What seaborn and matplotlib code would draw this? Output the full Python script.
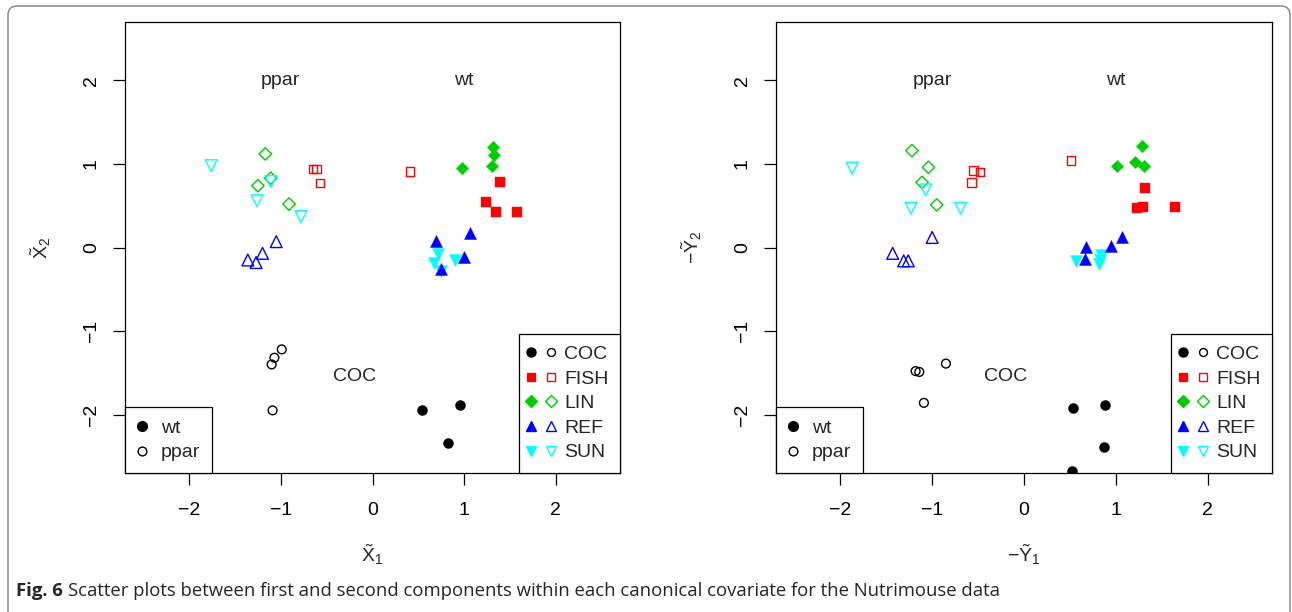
import numpy as np
import pandas as pd
import matplotlib
matplotlib.use("Agg")
import matplotlib.pyplot as plt
import seaborn as sns
from matplotlib.lines import Line2D
from matplotlib.legend_handler import HandlerTuple
from matplotlib.patches import FancyBboxPatch
from matplotlib.transforms import IdentityTransform

# Nutrimouse: 2 genotypes x 5 diets
diets = ["COC", "FISH", "LIN", "REF", "SUN"]
diet_colors = ["#000000", "#FF0000", "#00CD00", "#0000FF", "#00FFFF"]
genotypes = ["wt", "ppar"]
tick_vals = [-2, -1, 0, 1, 2]

# left panel: X~1 vs X~2
wt_diet_L = ["COC"] * 3 + ["FISH"] * 4 + ["LIN"] * 4 + ["REF"] * 4 + ["SUN"] * 4
wt_x_L = [0.54, 0.95, 0.82, 1.39, 1.24, 1.35, 1.58, 0.98, 1.31, 1.33, 1.30,
          0.69, 1.06, 1.00, 0.75, 0.71, 0.67, 0.90, 0.75]
wt_y_L = [-1.95, -1.89, -2.34, 0.79, 0.54, 0.42, 0.43, 0.95, 1.20, 1.11, 0.98,
          0.08, 0.17, -0.11, -0.26, -0.08, -0.19, -0.15, -0.28]
pp_diet_L = ["COC"] * 4 + ["FISH"] * 4 + ["LIN"] * 4 + ["REF"] * 4 + ["SUN"] * 4
pp_x_L = [-0.99, -1.07, -1.10, -1.09, -0.65, -0.61, -0.57, 0.41, -1.17, -1.11, -1.25, -0.91,
          -1.05, -1.20, -1.36, -1.27, -1.76, -1.11, -1.26, -0.78]
pp_y_L = [-1.22, -1.32, -1.40, -1.95, 0.94, 0.94, 0.77, 0.91, 1.12, 0.83, 0.74, 0.52,
          0.07, -0.07, -0.15, -0.18, 0.98, 0.79, 0.56, 0.37]

# right panel: -Y~1 vs -Y~2
wt_diet_R = ["COC"] * 4 + ["FISH"] * 4 + ["LIN"] * 4 + ["REF"] * 4 + ["SUN"] * 4
wt_x_R = [0.53, 0.88, 0.87, 0.52, 1.32, 1.23, 1.30, 1.64, 1.29, 1.01, 1.21, 1.31,
          1.07, 0.95, 0.67, 0.66, 0.57, 0.84, 0.82, 0.83]
wt_y_R = [-1.92, -1.89, -2.39, -2.68, 0.71, 0.47, 0.48, 0.49, 1.21, 0.98, 1.02, 0.98,
          0.13, 0.02, 0.01, -0.14, -0.16, -0.09, -0.20, -0.15]
pp_diet_R = ["COC"] * 4 + ["FISH"] * 4 + ["LIN"] * 4 + ["REF"] * 4 + ["SUN"] * 4
pp_x_R = [-0.85, -1.18, -1.14, -1.09, -0.55, -0.48, -0.57, 0.51, -1.22, -1.04, -1.11, -0.95,
          -1.00, -1.43, -1.31, -1.26, -1.87, -1.07, -1.23, -0.69]
pp_y_R = [-1.39, -1.48, -1.49, -1.86, 0.92, 0.90, 0.78, 1.04, 1.16, 0.96, 0.78, 0.51,
          0.12, -0.07, -0.16, -0.16, 0.95, 0.69, 0.47, 0.47]


def make_frame(wt_d, wt_x, wt_y, pp_d, pp_x, pp_y):
    a = pd.DataFrame({"diet": wt_d, "x": wt_x, "y": wt_y, "genotype": "wt"})
    b = pd.DataFrame({"diet": pp_d, "x": pp_x, "y": pp_y, "genotype": "ppar"})
    return pd.concat([a, b], ignore_index=True)


df_left = make_frame(wt_diet_L, wt_x_L, wt_y_L, pp_diet_L, pp_x_L, pp_y_L)
df_right = make_frame(wt_diet_R, wt_x_R, wt_y_R, pp_diet_R, pp_x_R, pp_y_R)

markers = {"COC": "o", "FISH": "s", "LIN": "D", "REF": "^", "SUN": "v"}
s_fill = {"COC": 52, "FISH": 46, "LIN": 40, "REF": 75, "SUN": 75}
s_open = {"COC": 40, "FISH": 36, "LIN": 40, "REF": 72, "SUN": 72}
col_of = dict(zip(diets, diet_colors))
draw_order = ["COC", "FISH", "LIN", "SUN", "REF"]

sns.set_style("ticks")
plt.rcParams["font.family"] = ["Liberation Sans", "DejaVu Sans"]
plt.rcParams["mathtext.fontset"] = "custom"
plt.rcParams["mathtext.rm"] = "Liberation Sans"
plt.rcParams["mathtext.it"] = "Liberation Sans:italic"
plt.rcParams["mathtext.bf"] = "Liberation Sans:bold"

W, H = 1292, 612
fig = plt.figure(figsize=(W / 100, H / 100), dpi=100)
fig.patch.set_facecolor("white")
ax1 = fig.add_axes([125 / W, 1 - 473 / H, 495 / W, 451 / H])
ax2 = fig.add_axes([776 / W, 1 - 473 / H, 496 / W, 451 / H])

FS = 14


def draw_panel(ax, data, xlab, ylab):
    for geno in genotypes:
        for diet in draw_order:
            sub = data[(data["genotype"] == geno) & (data["diet"] == diet)]
            if sub.empty:
                continue
            c = col_of[diet]
            if geno == "wt":
                sns.scatterplot(data=sub, x="x", y="y", ax=ax, marker=markers[diet],
                                s=s_fill[diet], color=c, edgecolor=c, linewidth=0.3,
                                legend=False, zorder=3)
            else:
                sns.scatterplot(data=sub, x="x", y="y", ax=ax, marker=markers[diet],
                                s=s_open[diet], color=c, facecolor="none", edgecolor=c,
                                linewidth=1.0, legend=False, zorder=3)

    ax.set_xlim(-2.7, 2.7)
    ax.set_ylim(-2.7, 2.7)
    ax.set_xticks(tick_vals)
    ax.set_yticks(tick_vals)
    ax.set_xticklabels(["\u22122", "\u22121", "0", "1", "2"])
    ax.set_yticklabels(["\u22122", "\u22121", "0", "1", "2"])
    ax.tick_params(axis="both", direction="out", length=8.6, width=0.9,
                   labelsize=FS, colors="black")
    ax.tick_params(axis="x", pad=12.5)
    ax.tick_params(axis="y", pad=9.5, labelrotation=90)
    for lab in ax.get_yticklabels():
        lab.set_va("center")
    for sp in ax.spines.values():
        sp.set_visible(True)
        sp.set_linewidth(0.9)
        sp.set_color("black")

    ax.set_xlabel(xlab, fontsize=FS, va="center")
    ax.set_ylabel(ylab, fontsize=FS, va="center")
    ax.xaxis.set_label_coords(0.5, -82 / 451)
    ax.yaxis.set_label_coords(-84 / 495, 0.5)

    ax.text(-1, 2, "ppar", ha="center", va="center", fontsize=FS)
    ax.text(1, 2, "wt", ha="center", va="center", fontsize=FS)
    ax.text(-0.2, -1.54, "COC", ha="center", va="center", fontsize=FS)

    # genotype legend (filled = wt, open = ppar)
    g_handles = [
        Line2D([], [], ls="none", marker="o", color="black", ms=7.0),
        Line2D([], [], ls="none", marker="o", mfc="none", mec="black", mew=1.0, ms=6.3),
    ]
    leg_g = ax.legend(g_handles, genotypes, loc="lower left", borderaxespad=0,
                      fancybox=False, framealpha=1, edgecolor="black", fontsize=FS,
                      borderpad=0.6, handlelength=0.56,
                      handletextpad=0.7, labelspacing=0.36)
    leg_g.get_frame().set_linewidth(0.9)
    ax.add_artist(leg_g)

    # diet legend
    d_handles = []
    for d, c in zip(diets, diet_colors):
        ms_f = np.sqrt(s_fill[d]) * 0.9
        ms_o = np.sqrt(s_open[d]) * 0.9
        filled = Line2D([], [], ls="none", marker=markers[d], color=c, mec=c, ms=ms_f)
        hollow = Line2D([], [], ls="none", marker=markers[d], mfc="none", mec=c,
                        mew=1.0, ms=ms_o)
        d_handles.append((filled, hollow))
    leg_d = ax.legend(d_handles, diets, loc="lower right", borderaxespad=0,
                      handler_map={tuple: HandlerTuple(ndivide=None, pad=0.88)},
                      fancybox=False, framealpha=1, edgecolor="black", fontsize=FS,
                      borderpad=0.6, handlelength=1.08,
                      handletextpad=0.64, labelspacing=0.36)
    leg_d.get_frame().set_linewidth(0.9)


draw_panel(ax1, df_left, r"$\tilde{\mathrm{X}}_1$", r"$\tilde{\mathrm{X}}_2$")
draw_panel(ax2, df_right, r"$-\tilde{\mathrm{Y}}_1$", r"$-\tilde{\mathrm{Y}}_2$")

# outer frame of the journal figure
frame = FancyBboxPatch((8, -40), 1282, H - 6 + 40, boxstyle="round,pad=0,rounding_size=9",
                       transform=IdentityTransform(), fill=False,
                       edgecolor="#8a8a8a", linewidth=1.1)
fig.add_artist(frame)

# caption
cap_size = 13.3
renderer = fig.canvas.get_renderer()
t1 = fig.text(16 / W, 1 - 596 / H, "Fig. 6", fontsize=cap_size, fontweight="bold",
              family="Open Sans", va="baseline", ha="left")
bb = t1.get_window_extent(renderer)
fig.text((bb.x1 + 5) / W, 1 - 596 / H,
         "Scatter plots between first and second components within each canonical "
         "covariate for the Nutrimouse data",
         fontsize=cap_size, family="Open Sans", va="baseline", ha="left")

fig.savefig("out.png", dpi=100)
